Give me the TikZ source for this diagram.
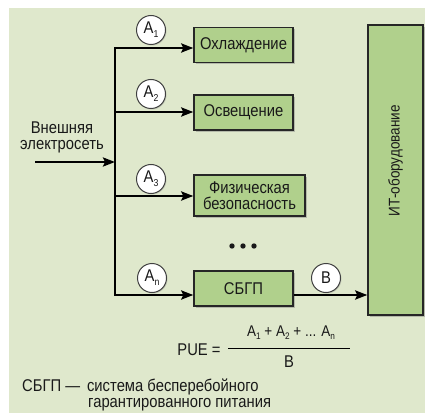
\documentclass[tikz,border=0pt]{standalone}
\usepackage{fontspec}
\setmainfont{Liberation Sans}[FakeStretch=0.87]
\usetikzlibrary{positioning, calc, arrows.meta, shadows}
\definecolor{panel}{HTML}{DFE8CC}
\definecolor{boxgreen}{HTML}{B0D08C}
\tikzstyle{Arrow} = [
%thick line, filled tip
line width = 2.4pt, line join = miter,
-{Stealth[length = 12pt, width = 9pt, inset = 2pt]}
]

\begin{document}
\begin{tikzpicture}[x = 1pt, y = -1pt,
      every node/.style = {font = \fontsize{17}{19}\selectfont, text = black!90},
      unit/.style = {rectangle, draw = black!85, line width = 1.4pt, fill = boxgreen, text centered, align = center, minimum width = 99pt, minimum height = 35pt, inner sep = 1pt, drop shadow = {shadow xshift = 2pt, shadow yshift = -2pt, opacity = 0.45}},
      flow/.style = {circle, draw = black!75, fill = white, line width = 1pt, inner sep = 0pt, minimum size = 29pt, drop shadow = {shadow xshift = 1pt, shadow yshift = -1pt, opacity = 0.3}},
    ]
    \useasboundingbox (0,0) rectangle (425,414);
    \fill[panel] (9,8) rectangle (425,413);

    % consumers
    \node[unit] (cool) at (243.5,45) {Охлаждение};
    \node[unit] (light) at (243.5,112.5) {Освещение};
    \node[unit, minimum width = 111pt, minimum height = 41pt] (guard) at (249.5,195.5) {Физическая\\[-3pt]безопасность};
    \node[unit] (ups) at (243.5,288.5) {СБГП};
    \node[unit, minimum width = 55pt, minimum height = 290pt] (it) at (395.5,170) {};
    \node[rotate = 90, font = \fontsize{15.5}{17}\selectfont] (itlabel) at (395.5,161) {ИТ-оборудование};

    % bus
    \node[align = center] (grid) at (62,137) {Внешняя\\[-3pt]электросеть};
    \coordinate (In) at (35,162);
    \coordinate (Bus) at (115,162);
    \coordinate (J1) at (115,48);
    \coordinate (J2) at (115,112);
    \coordinate (J3) at (115,196);
    \coordinate (J4) at (115,295);

    \draw[Arrow] (In) -- (Bus);
    \draw[Arrow] (J4) -- (J1) -- (J1 -| cool.west);
    \draw[Arrow] (J2) -- (J2 -| light.west);
    \draw[Arrow] (J3) -- (J3 -| guard.west);
    \draw[Arrow] (J1) -- (J4) -- (J4 -| ups.west);
    \draw[Arrow, line width = 2.8pt] (J4 -| ups.east) -- (J4 -| it.west);

    % measured flows
    \node[flow] (A1) at (151,30) {A\raisebox{-4pt}{\fontsize{10}{10}\selectfont 1}};
    \node[flow] (A2) at (151,94) {A\raisebox{-4pt}{\fontsize{10}{10}\selectfont 2}};
    \node[flow] (A3) at (151,179) {A\raisebox{-4pt}{\fontsize{10}{10}\selectfont 3}};
    \node[flow] (An) at (152,278) {A\raisebox{-4pt}{\fontsize{10}{10}\selectfont n}};
    \node[flow] (B) at (326,278) {B};

    \foreach \x in {232,243,254}
      \fill[black!90] (\x,246) circle (2.7pt);

    % formula
    \node (pue) at (199,350) {PUE =};
    \node[font = \fontsize{15.5}{17}\selectfont] (num) at (291,333) {A\raisebox{-3pt}{\fontsize{9.5}{10}\selectfont 1} + A\raisebox{-3pt}{\fontsize{9.5}{10}\selectfont 2} + ... A\raisebox{-3pt}{\fontsize{9.5}{10}\selectfont n}};
    \node (den) at (289,362) {B};
    \draw[line width = 1pt] (228,348) -- (350,348);

    % legend
    \node[anchor = west, inner sep = 0pt] (leg1) at (22,387) {СБГП — \,система бесперебойного};
    \node[anchor = west, inner sep = 0pt] (leg2) at (88,405) {гарантированного питания};
\end{tikzpicture}
\end{document}
